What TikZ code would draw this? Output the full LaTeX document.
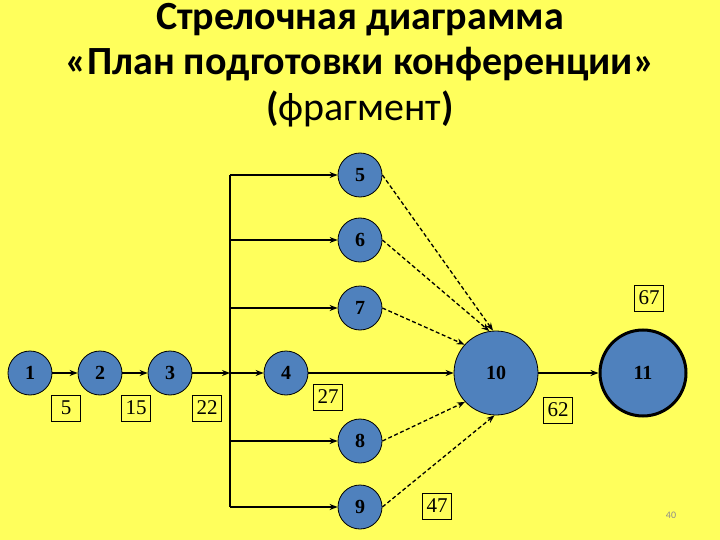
\documentclass[tikz,border=0pt]{standalone}
\usepackage{fontspec}
\setmainfont{Liberation Serif}
\newfontfamily\titlefont{Carlito}
\usetikzlibrary{arrows.meta}
\definecolor{bg}{RGB}{255,255,92}
\definecolor{nodeblue}{RGB}{79,129,189}
\begin{document}
\begin{tikzpicture}[x=1pt,y=-1pt,
  ev/.style={circle,draw=black,line width=0.8pt,fill=nodeblue,minimum size=44pt,inner sep=0pt,font=\bfseries\fontsize{20}{20}\selectfont},
  bigev/.style={ev,minimum size=84pt},
  lbl/.style={draw=black,line width=0.8pt,inner sep=1pt,minimum width=29pt,minimum height=26pt,font=\fontsize{21}{21}\selectfont},
  arr/.style={line width=1.5pt,-{Stealth[length=8pt,width=6pt]}},
  dsh/.style={line width=1.3pt,dash pattern=on 4pt off 2.5pt,-{Stealth[length=8pt,width=6pt]}},
  ln/.style={line width=1.6pt},
  ttl/.style={anchor=base,font=\titlefont\fontsize{40}{40}\selectfont}
]
\fill[bg] (0,0) rectangle (720,540);
\useasboundingbox (0,0) rectangle (720,540);
% title
\node[ttl] (t1) at (360,30) {\bfseries Стрелочная диаграмма};
\node[ttl] (t2) at (360,75) {\bfseries «План подготовки конференции»};
\node[ttl] (t3) at (360,121) {{\bfseries (}фрагмент{\bfseries )}};
% nodes
\node[ev] (n1) at (30,373) {1};
\node[ev] (n2) at (100,373) {2};
\node[ev] (n3) at (170,373) {3};
\node[ev] (n4) at (286,373) {4};
\node[ev] (n5) at (360,175) {5};
\node[ev] (n6) at (360,240) {6};
\node[ev] (n7) at (360,308) {7};
\node[ev] (n8) at (360,441) {8};
\node[ev] (n9) at (360,507) {9};
\node[bigev] (n10) at (496,373) {10};
\node[bigev,minimum size=86pt,line width=3pt] (n11) at (643,373) {11};
% branch coordinates
\coordinate (vm) at (230,373);
\coordinate (v5) at (230,175);
\coordinate (v6) at (230,240);
\coordinate (v7) at (230,308);
\coordinate (v8) at (230,441);
\coordinate (v9) at (230,507);
% solid arrows
\draw[arr] (n1) -- (n2);
\draw[arr] (n2) -- (n3);
\draw[arr] (n3) -- (vm);
\draw[arr] (vm) -- (n4);
\draw[ln] (v5) -- (v9);
\draw[arr] (v5) -- (n5);
\draw[arr,line width=1.1pt] (v6) -- (n6);
\draw[arr] (v7) -- (n7);
\draw[arr] (v8) -- (n8);
\draw[arr] (v9) -- (n9);
\draw[arr] (n4) -- (n10);
\draw[arr] (n10) -- (n11);
% dashed arrows
\draw[dsh] (n5.east) -- (n10.94);
\draw[dsh] (n6.east) -- (n10.99);
\draw[dsh] (n7.east) -- (n10.138);
\draw[dsh] (n8.east) -- (n10.223);
\draw[dsh] (n9.east) -- (n10.268);
% labels
\node[lbl] (l5) at (66,408) {5};
\node[lbl] (l15) at (136,408) {15};
\node[lbl] (l22) at (207,408) {22};
\node[lbl] (l27) at (328,397) {27};
\node[lbl] (l62) at (558,410) {62};
\node[lbl] (l47) at (437,506) {47};
\node[lbl] (l67) at (649,298) {67};
\node[font=\titlefont\fontsize{10}{10}\selectfont,text=black!45] (pg) at (671,515) {40};
\end{tikzpicture}
\end{document}
